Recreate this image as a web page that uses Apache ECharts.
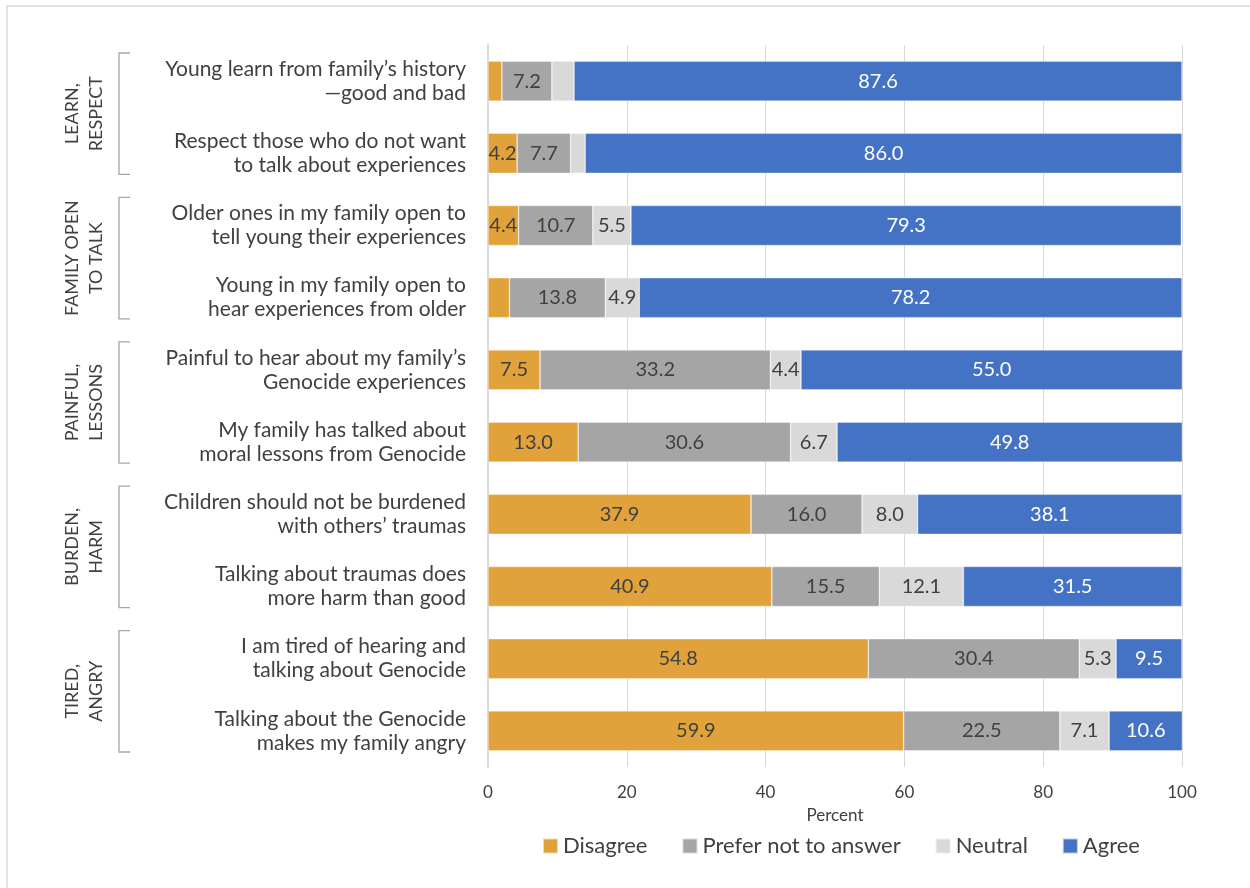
<!DOCTYPE html>
<html>
<head>
<meta charset="utf-8">
<script src="https://cdn.jsdelivr.net/npm/echarts@6/dist/echarts.min.js"></script>
<style>
  html, body { margin: 0; padding: 0; background: #ffffff; }
  #chart { width: 1250px; height: 888px; }
</style>
</head>
<body>
<div id="chart"></div>
<script>
// Survey statements, top to bottom
const categories = [
  "Young learn from family’s history\n—good and bad",
  "Respect those who do not want\nto talk about experiences",
  "Older ones in my family open to\ntell young their experiences",
  "Young in my family open to\nhear experiences from older",
  "Painful to hear about my family’s\nGenocide experiences",
  "My family has talked about\nmoral lessons from Genocide",
  "Children should not be burdened\nwith others’ traumas",
  "Talking about traumas does\nmore harm than good",
  "I am tired of hearing and\ntalking about Genocide",
  "Talking about the Genocide\nmakes my family angry"
];

// Response shares (percent)
const disagree = [2.0, 4.2, 4.4, 3.1, 7.5, 13.0, 37.9, 40.9, 54.8, 59.9];
const preferNot = [7.2, 7.7, 10.7, 13.8, 33.2, 30.6, 16.0, 15.5, 30.4, 22.5];
const neutral = [3.2, 2.1, 5.5, 4.9, 4.4, 6.7, 8.0, 12.1, 5.3, 7.1];
const agree = [87.6, 86.0, 79.3, 78.2, 55.0, 49.8, 38.1, 31.5, 9.5, 10.6];

// Theme groups: label and the number of statements each covers
const groupLabels = ["LEARN,\nRESPECT", "FAMILY OPEN\nTO TALK", "PAINFUL,\nLESSONS", "BURDEN,\nHARM", "TIRED,\nANGRY"];
const groupSizes = [2, 2, 2, 2, 2];

const xTicks = [0, 20, 40, 60, 80, 100];

const FONT = "Lato, 'Open Sans', sans-serif";
const TEXT = "#404040";
const GRID = "#D9D9D9";

const chart = echarts.init(document.getElementById("chart"), null, { renderer: "canvas" });

function labelFor(color) {
  return {
    show: true,
    position: "inside",
    fontFamily: FONT,
    fontSize: 20,
    color: color,
    formatter: p => (p.value >= 4 ? p.value.toFixed(1) : "")
  };
}

function barSeries(name, data, fill, textColor) {
  return {
    name: name,
    type: "bar",
    stack: "total",
    barWidth: 40,
    data: data,
    itemStyle: { color: fill, borderColor: "rgba(255,255,255,0.6)", borderWidth: 0.6 },
    label: labelFor(textColor),
    emphasis: { disabled: true },
    animation: false
  };
}

chart.setOption({
  animation: false,
  textStyle: { fontFamily: FONT },
  grid: { left: 488, right: 68, top: 45, bottom: 121, containLabel: false },
  xAxis: {
    type: "value",
    min: xTicks[0],
    max: xTicks[xTicks.length - 1],
    interval: 20,
    name: "Percent",
    nameLocation: "middle",
    nameGap: 40,
    nameMoveOverlap: false,
    nameTextStyle: { fontFamily: FONT, fontSize: 17, color: TEXT },
    axisLine: { show: false },
    axisTick: { show: false },
    axisLabel: { fontFamily: FONT, fontSize: 17, color: TEXT, margin: 17 },
    splitLine: { show: true, lineStyle: { color: GRID, width: 1 } }
  },
  yAxis: {
    type: "category",
    inverse: true,
    data: categories,
    axisLine: { show: true, lineStyle: { color: GRID, width: 2 } },
    axisTick: { show: false },
    axisLabel: {
      fontFamily: FONT,
      fontSize: 21,
      lineHeight: 24,
      color: TEXT,
      align: "right",
      margin: 22
    }
  },
  legend: {
    bottom: 26,
    left: 537,
    itemWidth: 15,
    itemHeight: 15,
    itemGap: 34,
    icon: "rect",
    textStyle: { fontFamily: FONT, fontSize: 22, color: TEXT },
    data: ["Disagree", "Prefer not to answer", "Neutral", "Agree"]
  },
  series: [
    barSeries("Disagree", disagree, "#E1A23B", TEXT),
    barSeries("Prefer not to answer", preferNot, "#A5A5A5", TEXT),
    barSeries("Neutral", neutral, "#D9D9D9", TEXT),
    barSeries("Agree", agree, "#4472C4", "#FFFFFF")
  ]
});

// Group brackets and rotated theme labels, placed from the category axis
function drawGroups() {
  const y0 = chart.convertToPixel({ yAxisIndex: 0 }, 0);
  const y1 = chart.convertToPixel({ yAxisIndex: 0 }, 1);
  const band = Math.abs(y1 - y0);
  const elements = [
    {
      type: "rect",
      shape: { x: 7, y: 6, width: 1260, height: 900 },
      style: { fill: null, stroke: "#D9D9D9", lineWidth: 1.5 },
      silent: true
    }
  ];
  let start = 0;
  groupSizes.forEach((size, i) => {
    const top = chart.convertToPixel({ yAxisIndex: 0 }, start) - band / 2 + 8;
    const bottom = chart.convertToPixel({ yAxisIndex: 0 }, start + size - 1) + band / 2 - 15;
    elements.push({
      type: "polyline",
      shape: { points: [[130, top], [119, top], [119, bottom], [130, bottom]] },
      style: { stroke: "#A6A6A6", lineWidth: 1.3, fill: null },
      silent: true
    });
    elements.push({
      type: "text",
      x: 84,
      y: (top + bottom) / 2,
      rotation: Math.PI / 2,
      style: {
        text: groupLabels[i],
        fontFamily: FONT,
        fontSize: 18,
        lineHeight: 24,
        fill: TEXT,
        align: "center",
        verticalAlign: "middle"
      },
      silent: true
    });
    start += size;
  });
  chart.setOption({ graphic: elements });
}
drawGroups();
</script>
</body>
</html>
